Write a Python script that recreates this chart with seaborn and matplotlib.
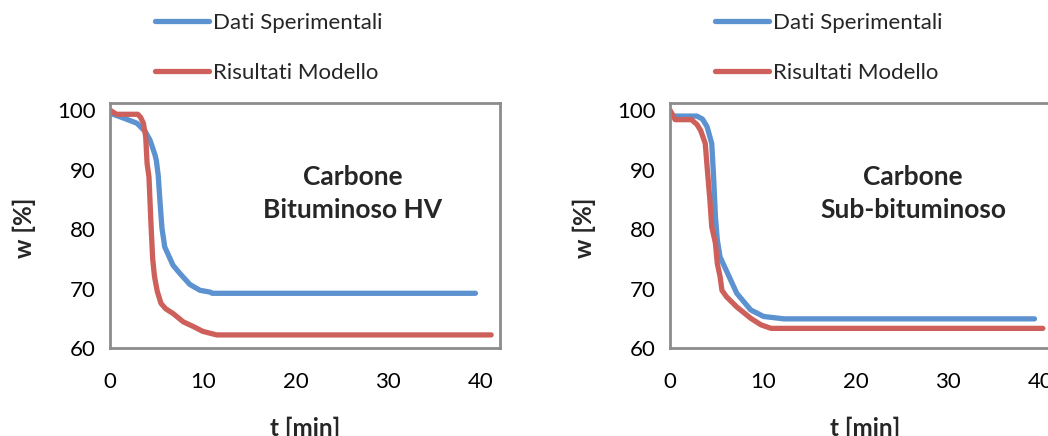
import matplotlib
matplotlib.use("Agg")
import matplotlib.pyplot as plt
from matplotlib.lines import Line2D
import pandas as pd
import seaborn as sns

# Bituminous HV coal: measured and simulated residual mass
bit_exp_t = [0, 1.4, 2.9, 3.8, 4.3, 4.85, 5.0, 5.2, 5.4, 5.6, 5.9, 6.8, 7.5, 8.6, 9.7, 10.8, 11.0, 39.4]
bit_exp_w = [99.5, 98.7, 97.8, 96.4, 95.0, 92.5, 91.5, 89.0, 84.4, 80.2, 77.0, 73.9, 72.6, 70.7, 69.7, 69.4, 69.2, 69.2]
bit_mod_t = [0, 0.7, 3.0, 3.3, 3.6, 3.85, 4.0, 4.2, 4.4, 4.6, 4.8, 5.1, 5.5, 6.0, 6.8, 7.9, 9.0, 10.0, 11.5, 41.1]
bit_mod_w = [100, 99.3, 99.3, 98.8, 97.8, 95.5, 91.0, 88.8, 81.5, 75.0, 72.0, 69.5, 67.5, 66.6, 65.8, 64.4, 63.6, 62.8, 62.2, 62.2]

# Sub-bituminous coal
sub_exp_t = [0, 0.4, 2.9, 3.5, 4.0, 4.5, 4.7, 4.9, 5.1, 5.4, 6.2, 7.2, 8.7, 10.1, 12.3, 39.3]
sub_exp_w = [99.7, 99.0, 99.0, 98.5, 97.2, 94.4, 88.8, 82.0, 78.2, 75.3, 72.6, 69.2, 66.4, 65.3, 64.9, 64.9]
sub_mod_t = [0, 0.55, 2.3, 2.9, 3.3, 3.8, 4.0, 4.3, 4.5, 4.9, 5.1, 5.4, 5.6, 6.1, 7.2, 8.7, 9.8, 10.9, 40.2]
sub_mod_w = [100, 98.4, 98.4, 97.6, 96.6, 94.4, 90.5, 84.9, 80.4, 77.6, 74.2, 72.0, 69.7, 68.6, 66.9, 65.0, 63.9, 63.3, 63.3]

series_names = ["Dati Sperimentali", "Risultati Modello"]
panel_titles = ["Carbone\nBituminoso HV", "Carbone\nSub-bituminoso"]
x_ticks = [0, 10, 20, 30, 40]
y_ticks = [60, 70, 80, 90, 100]

BLUE = "#5B92CF"
RED = "#CE605B"
GREY = "#8C8C8C"

sns.set_style("white")
plt.rcParams["font.family"] = ["Lato", "DejaVu Sans"]


def make_frame(t_exp, w_exp, t_mod, w_mod):
    a = pd.DataFrame({"t": t_exp, "w": w_exp, "serie": series_names[0]})
    b = pd.DataFrame({"t": t_mod, "w": w_mod, "serie": series_names[1]})
    return pd.concat([a, b], ignore_index=True)


frames = [
    make_frame(bit_exp_t, bit_exp_w, bit_mod_t, bit_mod_w),
    make_frame(sub_exp_t, sub_exp_w, sub_mod_t, sub_mod_w),
]

W, H = 1048, 436
fig = plt.figure(figsize=(W / 100, H / 100), dpi=100)

panel_left_px = [110, 670]
axes_w_px, axes_top_px, axes_bot_px = 390, 103, 348

for i, df in enumerate(frames):
    lx = panel_left_px[i]
    ax = fig.add_axes([lx / W, (H - axes_bot_px) / H, axes_w_px / W,
                       (axes_bot_px - axes_top_px) / H])
    sns.lineplot(data=df, x="t", y="w", hue="serie", palette=[BLUE, RED],
                 estimator=None, sort=False, legend=False, linewidth=3.8,
                 ax=ax)
    for ln in ax.get_lines():
        ln.set_solid_capstyle("round")
        ln.set_solid_joinstyle("round")
    ax.set_xlim(0, 42.05)
    ax.set_ylim(60, 101.2)
    ax.set_xticks(x_ticks)
    ax.set_yticks(y_ticks)
    ax.tick_params(axis="both", labelsize=16, length=6, width=1.6,
                   color=GREY, direction="out", pad=4, labelcolor="black")
    ax.tick_params(axis="x", pad=11)
    for sp in ax.spines.values():
        sp.set_color(GREY)
        sp.set_linewidth(2)
    ax.set_xlabel("t [min]", fontsize=17.5, fontweight="bold")
    ax.set_ylabel("w [%]", fontsize=17.5, fontweight="bold")
    ax.xaxis.set_label_coords(0.5, -0.28)
    ax.yaxis.set_label_coords(-0.19, 0.49)
    ax.text(0.623, 0.63, panel_titles[i], transform=ax.transAxes,
            ha="center", va="center", fontsize=19, fontweight="bold",
            linespacing=1.42)

    handles = [Line2D([], [], color=BLUE, lw=3.8, solid_capstyle="round"),
               Line2D([], [], color=RED, lw=3.8, solid_capstyle="round")]
    ax.legend(handles, series_names, loc="upper left",
              bbox_to_anchor=((lx + 45) / W, 1 - 13 / H),
              bbox_transform=fig.transFigure, frameon=False,
              borderaxespad=0, borderpad=0, fontsize=16,
              handlelength=2.45, handletextpad=0.15, labelspacing=1.33)

fig.savefig("out.png", dpi=100)
